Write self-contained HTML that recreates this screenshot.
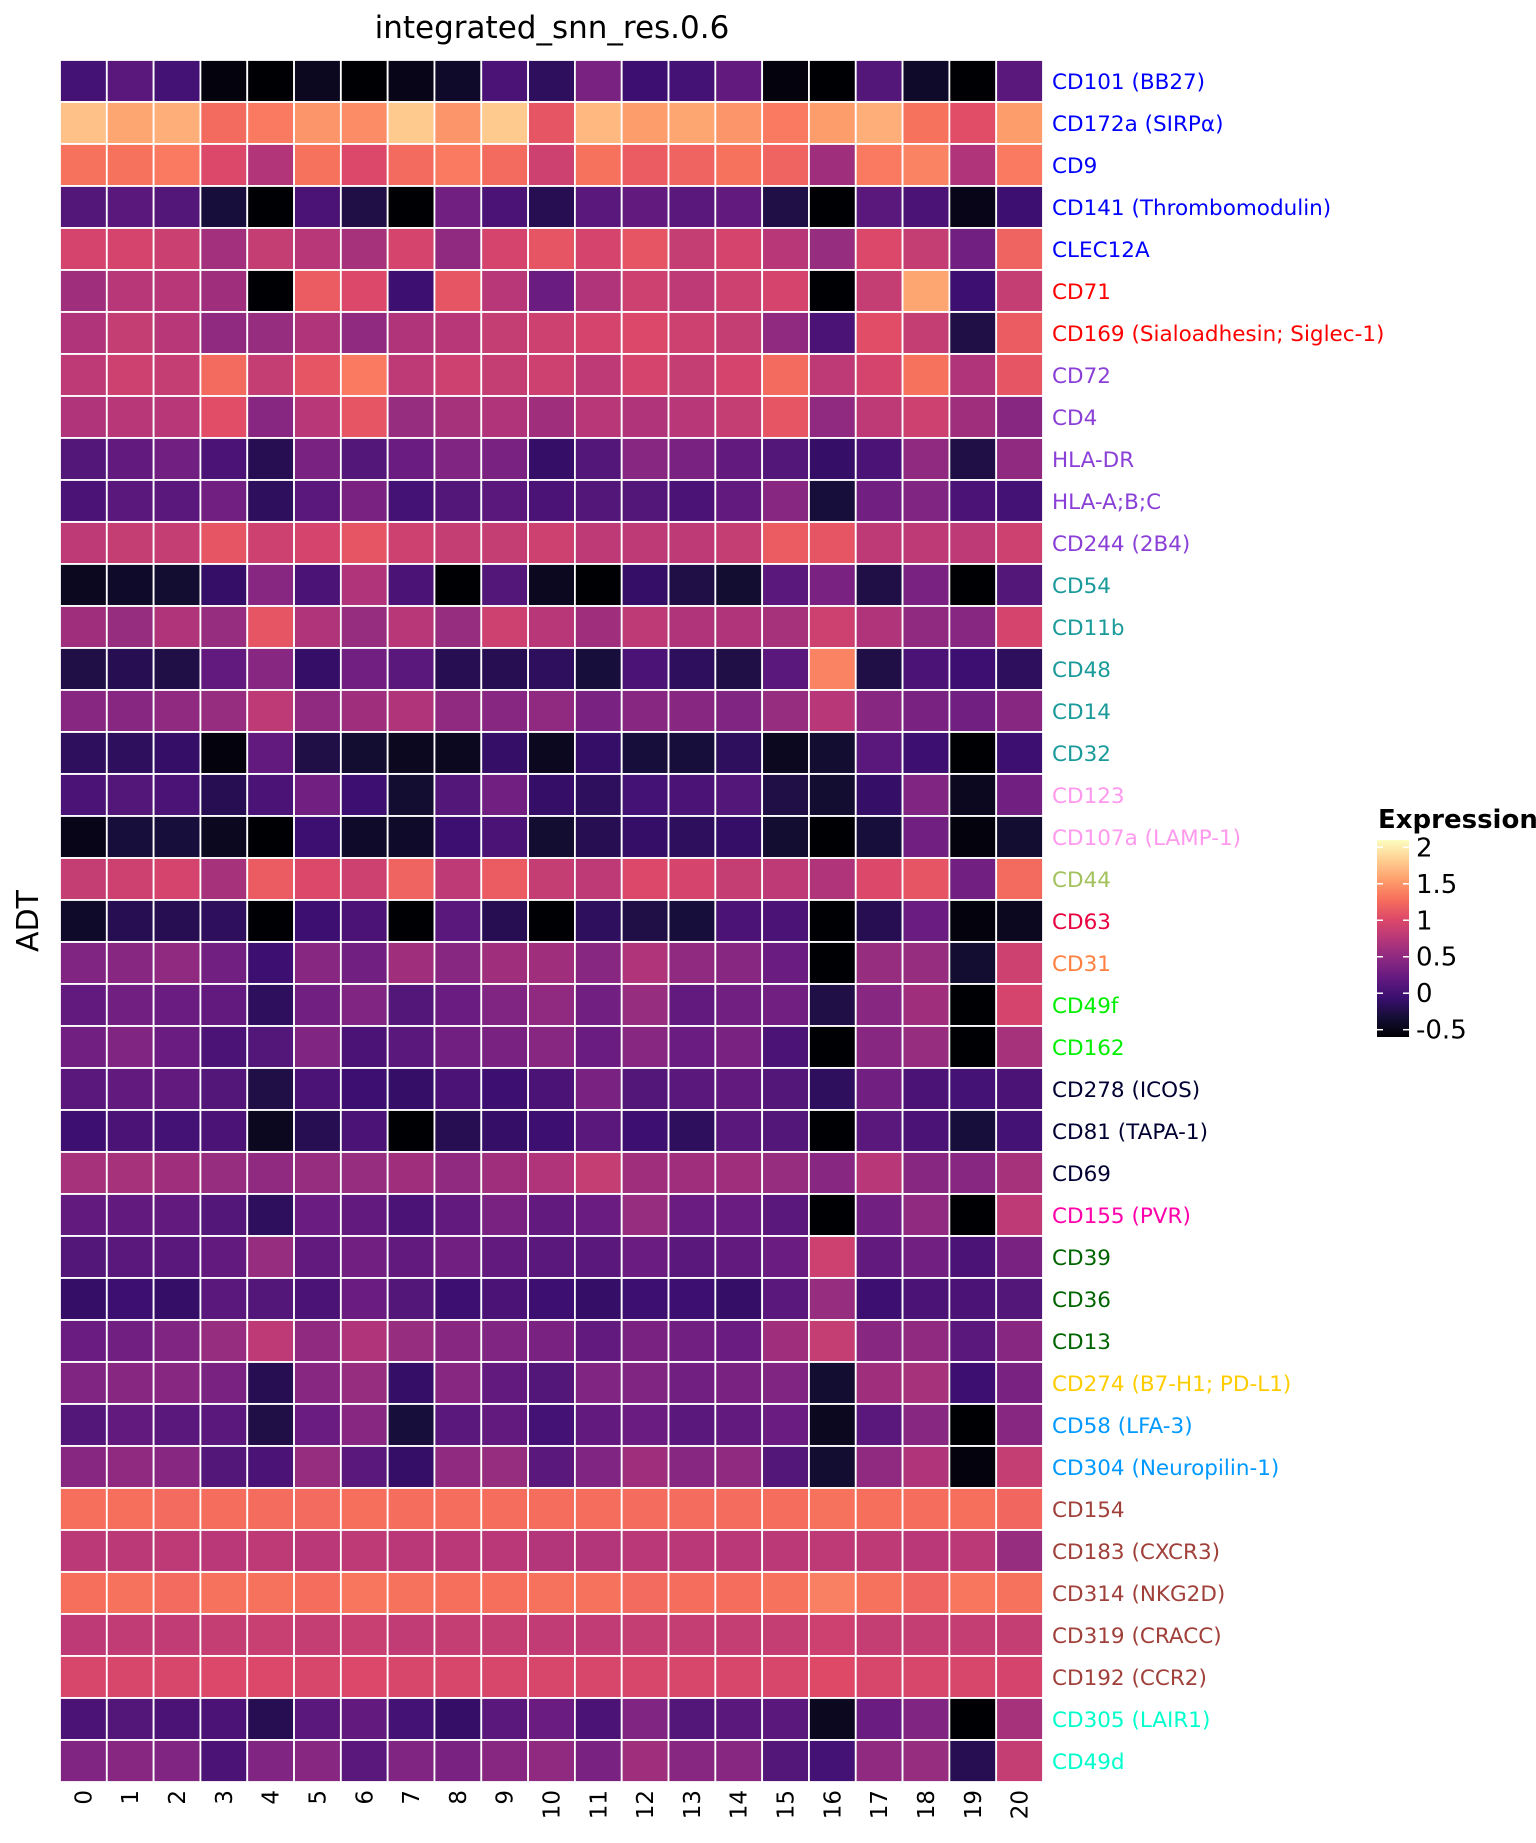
<!DOCTYPE html>
<html><head><meta charset="utf-8"><style>
html,body{margin:0;padding:0;background:#fff;}
svg{display:block;font-family:"DejaVu Sans","Liberation Sans",sans-serif;}
</style></head><body>
<svg id="chart" width="1536" height="1843" viewBox="0 0 1536 1843" xmlns="http://www.w3.org/2000/svg">
<text x="552" y="38" font-size="31" text-anchor="middle">integrated_snn_res.0.6</text>
<text transform="translate(38,921) rotate(-90)" font-size="30" text-anchor="middle">ADT</text>
<g id="cells"></g>
<g id="ylabels"></g>
<g id="xlabels"></g>
<g id="legend">
<defs><linearGradient id="grad" x1="0" y1="1" x2="0" y2="0"></linearGradient></defs>
<text x="1378" y="828" font-size="26" font-weight="bold">Expression</text>
</g>
</svg>
<script>
const clusters = ["0","1","2","3","4","5","6","7","8","9","10","11","12","13","14","15","16","17","18","19","20"];
const markers = ["CD101 (BB27)","CD172a (SIRPα)","CD9","CD141 (Thrombomodulin)","CLEC12A","CD71","CD169 (Sialoadhesin; Siglec-1)","CD72","CD4","HLA-DR","HLA-A;B;C","CD244 (2B4)","CD54","CD11b","CD48","CD14","CD32","CD123","CD107a (LAMP-1)","CD44","CD63","CD31","CD49f","CD162","CD278 (ICOS)","CD81 (TAPA-1)","CD69","CD155 (PVR)","CD39","CD36","CD13","CD274 (B7-H1; PD-L1)","CD58 (LFA-3)","CD304 (Neuropilin-1)","CD154","CD183 (CXCR3)","CD314 (NKG2D)","CD319 (CRACC)","CD192 (CCR2)","CD305 (LAIR1)","CD49d"];
const labelColors = ["#0000ff","#0000ff","#0000ff","#0000ff","#0000ff","#ff0000","#ff0000","#8a3fd6","#8a3fd6","#8a3fd6","#8a3fd6","#8a3fd6","#1a9a9a","#1a9a9a","#1a9a9a","#1a9a9a","#1a9a9a","#ff99ee","#ff99ee","#a3c25d","#e8003f","#ff8040","#00ee00","#00ee00","#000033","#000033","#000033","#ff00aa","#006400","#006400","#006400","#ffcc00","#0099ff","#0099ff","#a0403a","#a0403a","#a0403a","#a0403a","#a0403a","#00ffcc","#00ffcc"];
const legendTicks = [-0.5,0,0.5,1,1.5,2];
const legendTickLabels = ["-0.5","0","0.5","1","1.5","2"];
const values = [
[0.0,0.15,0.0,-0.55,-0.6,-0.45,-0.6,-0.5,-0.4,0.05,-0.15,0.35,-0.05,0.0,0.2,-0.55,-0.6,0.1,-0.4,-0.6,0.15],
[1.75,1.6,1.65,1.25,1.35,1.5,1.45,1.8,1.5,1.8,1.1,1.7,1.55,1.6,1.5,1.35,1.55,1.65,1.3,1.05,1.55],
[1.3,1.3,1.35,1.0,0.72,1.3,1.0,1.25,1.35,1.25,0.9,1.3,1.15,1.2,1.3,1.2,0.6,1.35,1.4,0.7,1.35],
[0.1,0.15,0.1,-0.3,-0.6,0.05,-0.25,-0.6,0.3,0.05,-0.2,0.15,0.2,0.15,0.2,-0.25,-0.6,0.15,0.05,-0.5,-0.05],
[0.95,0.95,0.88,0.62,0.85,0.75,0.65,0.95,0.5,0.95,1.1,0.95,1.1,0.85,0.95,0.75,0.55,1.0,0.85,0.3,1.2],
[0.6,0.75,0.75,0.6,-0.6,1.15,1.0,-0.05,1.1,0.75,0.25,0.7,0.9,0.8,0.9,0.95,-0.6,0.85,1.6,-0.05,0.85],
[0.7,0.85,0.75,0.5,0.55,0.7,0.5,0.7,0.75,0.85,0.9,0.95,1.0,0.9,0.85,0.5,0.05,1.05,0.85,-0.25,1.15],
[0.8,0.9,0.85,1.25,0.85,1.1,1.35,0.8,0.9,0.85,0.9,0.8,0.95,0.85,0.95,1.25,0.8,0.95,1.3,0.7,1.1],
[0.7,0.75,0.75,1.05,0.45,0.75,1.1,0.55,0.65,0.7,0.6,0.75,0.7,0.75,0.85,1.1,0.5,0.8,0.9,0.6,0.45],
[0.1,0.2,0.3,0.05,-0.2,0.35,0.1,0.25,0.4,0.35,-0.1,0.1,0.45,0.35,0.2,0.1,-0.1,0.05,0.5,-0.25,0.5],
[0.05,0.15,0.15,0.3,-0.15,0.15,0.35,0.0,0.1,0.15,0.05,0.1,0.1,0.05,0.2,0.45,-0.3,0.3,0.4,0.05,0.0],
[0.8,0.85,0.85,1.1,0.9,0.95,1.1,0.9,0.85,0.85,0.9,0.8,0.8,0.8,0.85,1.15,1.1,0.8,0.8,0.8,0.9],
[-0.45,-0.4,-0.35,-0.1,0.45,0.05,0.7,0.05,-0.6,0.1,-0.45,-0.6,-0.1,-0.25,-0.35,0.15,0.35,-0.25,0.35,-0.6,0.1],
[0.6,0.55,0.7,0.55,1.1,0.7,0.55,0.75,0.55,0.9,0.75,0.6,0.8,0.7,0.7,0.65,0.9,0.7,0.5,0.45,0.95],
[-0.25,-0.2,-0.25,0.2,0.45,-0.1,0.3,0.15,-0.2,-0.2,-0.15,-0.3,0.05,-0.15,-0.25,0.15,1.4,-0.25,0.05,-0.05,-0.15],
[0.45,0.45,0.5,0.55,0.8,0.5,0.6,0.7,0.5,0.45,0.5,0.35,0.45,0.45,0.4,0.55,0.75,0.45,0.35,0.3,0.45],
[-0.15,-0.15,-0.1,-0.55,0.2,-0.25,-0.35,-0.45,-0.45,-0.1,-0.45,-0.1,-0.3,-0.3,-0.15,-0.45,-0.35,0.15,-0.05,-0.6,-0.05],
[0.05,0.1,0.05,-0.2,0.05,0.3,-0.05,-0.35,0.1,0.3,-0.1,-0.15,0.0,0.05,0.1,-0.25,-0.35,-0.1,0.4,-0.45,0.3],
[-0.5,-0.3,-0.3,-0.45,-0.6,-0.05,-0.4,-0.4,-0.05,0.05,-0.35,-0.2,-0.1,-0.15,-0.1,-0.35,-0.6,-0.3,0.3,-0.55,-0.35],
[0.85,0.9,0.95,0.65,1.15,1.0,0.9,1.2,0.8,1.15,0.85,0.8,1.0,0.95,0.85,0.8,0.7,1.0,1.1,0.3,1.25],
[-0.4,-0.2,-0.2,-0.15,-0.6,-0.05,0.05,-0.6,0.15,-0.2,-0.6,-0.15,-0.25,-0.3,0.05,0.05,-0.6,-0.2,0.25,-0.55,-0.45],
[0.4,0.45,0.5,0.3,-0.05,0.45,0.3,0.6,0.45,0.6,0.6,0.45,0.7,0.5,0.45,0.25,-0.6,0.55,0.55,-0.35,0.9],
[0.2,0.3,0.25,0.2,-0.15,0.3,0.4,0.1,0.25,0.4,0.5,0.3,0.55,0.2,0.3,0.3,-0.25,0.45,0.6,-0.6,0.95],
[0.3,0.4,0.25,0.05,0.1,0.4,0.05,0.15,0.3,0.35,0.45,0.25,0.45,0.25,0.35,0.05,-0.6,0.45,0.55,-0.6,0.65],
[0.15,0.2,0.2,0.1,-0.25,0.05,-0.05,-0.1,0.05,-0.05,0.05,0.35,0.1,0.15,0.2,0.1,-0.15,0.3,0.05,0.0,0.05],
[-0.05,0.05,0.0,0.05,-0.45,-0.2,0.05,-0.6,-0.2,-0.1,-0.05,0.15,-0.05,-0.15,0.15,0.1,-0.6,0.15,0.05,-0.3,0.0],
[0.65,0.65,0.6,0.55,0.5,0.55,0.55,0.6,0.5,0.6,0.7,0.85,0.6,0.6,0.6,0.55,0.45,0.75,0.45,0.45,0.65],
[0.2,0.2,0.2,0.1,-0.15,0.25,0.2,0.05,0.2,0.35,0.2,0.25,0.55,0.25,0.25,0.15,-0.6,0.3,0.5,-0.6,0.8],
[0.1,0.15,0.15,0.2,0.55,0.2,0.3,0.2,0.3,0.2,0.15,0.15,0.25,0.15,0.2,0.25,0.9,0.2,0.3,0.05,0.35],
[-0.1,-0.05,-0.1,0.15,0.1,0.05,0.25,0.1,-0.05,0.05,-0.05,-0.1,-0.05,-0.05,-0.1,0.15,0.55,-0.05,0.05,0.05,0.1],
[0.25,0.3,0.4,0.55,0.8,0.5,0.7,0.55,0.45,0.4,0.35,0.2,0.35,0.3,0.25,0.6,0.85,0.45,0.5,0.15,0.45],
[0.4,0.45,0.45,0.35,-0.2,0.45,0.55,-0.1,0.45,0.2,0.1,0.4,0.4,0.3,0.35,0.4,-0.35,0.6,0.65,-0.05,0.35],
[0.1,0.2,0.15,0.15,-0.25,0.25,0.45,-0.3,0.15,0.2,0.0,0.2,0.25,0.15,0.2,0.25,-0.45,0.15,0.45,-0.6,0.45],
[0.45,0.5,0.45,0.1,0.05,0.55,0.15,-0.1,0.5,0.55,0.15,0.4,0.6,0.45,0.5,0.1,-0.35,0.5,0.7,-0.55,0.85],
[1.28,1.28,1.25,1.27,1.26,1.25,1.28,1.27,1.27,1.27,1.27,1.27,1.26,1.26,1.26,1.27,1.3,1.28,1.27,1.28,1.22],
[0.78,0.78,0.8,0.77,0.8,0.77,0.8,0.77,0.77,0.77,0.73,0.73,0.77,0.77,0.77,0.78,0.8,0.8,0.77,0.78,0.55],
[1.28,1.3,1.25,1.3,1.3,1.27,1.32,1.3,1.28,1.28,1.3,1.3,1.25,1.27,1.27,1.3,1.38,1.3,1.2,1.32,1.3],
[0.8,0.82,0.82,0.85,0.87,0.85,0.87,0.82,0.85,0.85,0.82,0.82,0.85,0.85,0.85,0.85,0.9,0.85,0.85,0.85,0.85],
[0.97,0.97,0.97,1.0,1.0,0.97,1.0,0.97,0.97,0.97,0.97,0.97,0.97,0.97,0.97,0.97,1.02,0.97,0.97,0.97,0.95],
[0.05,0.1,0.05,0.05,-0.2,0.15,0.2,0.0,-0.1,0.15,0.25,0.05,0.4,0.1,0.15,0.15,-0.45,0.25,0.4,-0.6,0.65],
[0.4,0.45,0.4,0.05,0.4,0.45,0.15,0.4,0.35,0.45,0.5,0.35,0.6,0.45,0.45,0.1,0.0,0.5,0.55,-0.2,0.85]
];
const NS="http://www.w3.org/2000/svg";
const vmin=-0.6, vmax=2.1;
const plotL=60, plotT=60, plotR=1043, plotB=1782;
const cw=(plotR-plotL)/clusters.length, ch=(plotB-plotT)/markers.length;
const stops=["#000004","#140e36","#3b0f70","#641a80","#8c2981","#b73779","#de4968","#f7705c","#fe9f6d","#fecf92","#fcfdbf"];
function hex(h){return [parseInt(h.slice(1,3),16),parseInt(h.slice(3,5),16),parseInt(h.slice(5,7),16)];}
function color(v){let t=(v-vmin)/(vmax-vmin);t=Math.max(0,Math.min(1,t));const p=t*(stops.length-1);const i=Math.min(Math.floor(p),stops.length-2);const f=p-i;const a=hex(stops[i]),b=hex(stops[i+1]);return "rgb("+a.map((x,k)=>Math.round(x+(b[k]-x)*f)).join(",")+")";}
function xPos(i){return plotL+i*cw;}
function yPos(j){return plotT+j*ch;}
const cells=document.getElementById('cells');
values.forEach((row,j)=>row.forEach((v,i)=>{
  const r=document.createElementNS(NS,'rect');
  r.setAttribute('x',xPos(i));r.setAttribute('y',yPos(j));
  r.setAttribute('width',cw);r.setAttribute('height',ch);
  r.setAttribute('fill',color(v));r.setAttribute('stroke','#fff');r.setAttribute('stroke-width','1.8');
  
  
  cells.appendChild(r);
}));
const yl=document.getElementById('ylabels');
markers.forEach((m,j)=>{
  const t=document.createElementNS(NS,'text');
  t.setAttribute('x',plotR+9);t.setAttribute('y',yPos(j)+ch/2+8);
  t.setAttribute('font-size','21.5');t.setAttribute('fill',labelColors[j]);
  t.textContent=m;
  
  
  yl.appendChild(t);
});
const xl=document.getElementById('xlabels');
clusters.forEach((c,i)=>{
  const t=document.createElementNS(NS,'text');
  const cx=xPos(i)+cw/2;
  t.setAttribute('transform','translate('+(cx+8)+','+(plotB+8)+') rotate(-90)');
  t.setAttribute('text-anchor','end');t.setAttribute('font-size','23');
  t.textContent=c;
  
  
  xl.appendChild(t);
});
const grad=document.getElementById('grad');
stops.forEach((s,k)=>{const st=document.createElementNS(NS,'stop');st.setAttribute('offset',(k/(stops.length-1)));st.setAttribute('stop-color',s);grad.appendChild(st);});
const lg=document.getElementById('legend');
const barT=840, barB=1037, barX=1377, barW=32;
function ly(v){return barB-(v-vmin)/(vmax-vmin)*(barB-barT);}
const bar=document.createElementNS(NS,'rect');
bar.setAttribute('x',barX);bar.setAttribute('y',barT);bar.setAttribute('width',barW);bar.setAttribute('height',barB-barT);bar.setAttribute('fill','url(#grad)');


lg.appendChild(bar);
legendTicks.forEach((v,k)=>{
  const y=ly(v);
  [[barX,barX+6],[barX+barW-6,barX+barW]].forEach(([a,b])=>{const l=document.createElementNS(NS,'line');l.setAttribute('x1',a);l.setAttribute('x2',b);l.setAttribute('y1',y);l.setAttribute('y2',y);l.setAttribute('stroke','#fff');l.setAttribute('stroke-width','1.5');
  
  
  lg.appendChild(l);});
  const t=document.createElementNS(NS,'text');
  t.setAttribute('x',barX+39);t.setAttribute('y',y+9);t.setAttribute('font-size','26');
  t.textContent=legendTickLabels[k];
  
  
  lg.appendChild(t);
});
</script>
</body></html>
